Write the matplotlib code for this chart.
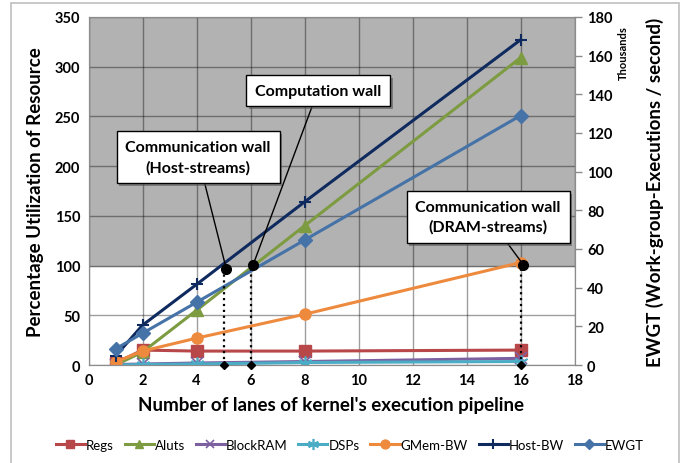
import matplotlib.pyplot as plt
import matplotlib.patheffects as pe
from matplotlib.patches import Rectangle

plt.rcParams['font.family'] = ['Lato', 'DejaVu Sans']

# Lanes in the kernel pipeline
lanes = [1, 2, 4, 8, 16]

# Resource utilization (%), left axis
regs = [2, 15, 14, 14, 15]
aluts = [0, 13, 55, 140, 309]
blockram = [0.5, 1, 2, 3.5, 6.7]
dsps = [0, 0.5, 1, 2.5, 3.5]
gmem_bw = [3, 14, 27, 51, 103]
host_bw = [9, 40, 81, 164, 327]

# Throughput (thousands of work-group executions / s), right axis
ewgt = [8.3, 16.4, 32.4, 64.6, 129]

# Wall points: (x of dotted drop line, y of dot, in % units)
walls_x = [5, 6, 16]
walls_y = [97, 101, 101]
wall_labels = ["Communication wall\n(Host-streams)", "Computation wall",
               "Communication wall\n(DRAM-streams)"]
# Callout box centres (data coords, % units)
box_x = [4.06, 8.5, 14.8]
box_y = [209, 276, 149]

fig = plt.figure(figsize=(6.92, 4.64), dpi=100)
fig.patches.append(Rectangle((11 / 692, -0.01), 668 / 692, 1 - 4 / 464 + 0.01,
                             transform=fig.transFigure, fill=False,
                             edgecolor='#bfbfbf', lw=1.2))
ax = fig.add_axes([88.5 / 692, 1 - 366 / 464, 486 / 692, 348 / 464])
ax2 = ax.twinx()

ax.set_xlim(0, 18)
ax.set_ylim(0, 350)
ax2.set_ylim(0, 180)
ax.axhspan(100, 350, color='#b2b2b2', zorder=0)
ax.set_xticks(range(0, 19, 2))
ax.set_yticks(range(0, 351, 50))
ax2.set_yticks(range(0, 181, 20))
ax.grid(True, color='black', alpha=0.38, lw=1.0, zorder=0.5)
ax.set_axisbelow(True)

for a in (ax, ax2):
    for s in a.spines.values():
        s.set_color('#8c8c8c')
    a.tick_params(labelsize=10.5, width=1, color='#8c8c8c')
    for lab in a.get_xticklabels() + a.get_yticklabels():
        lab.set_fontweight('bold')
ax.tick_params(axis='both', length=0, pad=6)
ax2.tick_params(axis='y', length=5, pad=4)

series = [
    ("Regs", regs, '#b8474a', 's', 8, {}),
    ("Aluts", aluts, '#7d9b40', '^', 8, {}),
    ("BlockRAM", blockram, '#7d60a0', 'x', 8, {'markeredgewidth': 1.2}),
    ("DSPs", dsps, '#4bacc6', (6, 2, 0), 10, {'markeredgewidth': 1.2}),
    ("GMem-BW", gmem_bw, '#ee8a3e', 'o', 8, {}),
    ("Host-BW", host_bw, '#0f2a5e', '+', 9, {'markeredgewidth': 1.5}),
]
handles = []
for name, vals, col, mk, ms, kw in series:
    h, = ax.plot(lanes, vals, color=col, lw=2.2, marker=mk, ms=ms,
                 markeredgecolor=col, markerfacecolor=col, label=name,
                 zorder=3, **kw)
    handles.append(h)
h, = ax2.plot(lanes, ewgt, color='#4572a7', lw=2.2, marker='D', ms=7,
              markeredgecolor='#4572a7', label="EWGT", zorder=3)
handles.append(h)

# Wall markers, drop lines and callouts
k = 180 / 350
for wx, wy, lab, bx, by in zip(walls_x, walls_y, wall_labels, box_x, box_y):
    ax2.plot([wx, wx], [0, wy * k], ls=':', color='black', lw=1.6, zorder=4)
    ax2.plot(wx, 0, marker='D', ms=4, color='black', zorder=5, clip_on=False)
    ax2.plot(wx + 0.1, wy * k, marker='o', ms=7, color='black', zorder=6)
    t = ax2.annotate(lab, xy=(wx + 0.1, wy * k), xytext=(bx, by * k),
                     ha='center', va='center', fontsize=11.5,
                     fontweight='bold', zorder=7, linespacing=1.5,
                     bbox=dict(boxstyle='square,pad=0.55', facecolor='white',
                               edgecolor='black', lw=1.0),
                     arrowprops=dict(arrowstyle='-', color='black', lw=1.0,
                                     shrinkA=0, shrinkB=0))
    t.get_bbox_patch().set_path_effects([
        pe.withSimplePatchShadow(offset=(2, -2), shadow_rgbFace='#555555',
                                 alpha=0.6)])

ax.set_xlabel("Number of lanes of kernel's execution pipeline",
              fontsize=13.5, fontweight='bold', labelpad=6)
ax.set_ylabel("Percentage Utilization of Resource", fontsize=13.5,
              fontweight='bold', labelpad=8)
ax2.set_ylabel("EWGT (Work-group-Executions / second)", fontsize=13.5,
               fontweight='bold', labelpad=24)
fig.text(623 / 692, 1 - 53 / 464, "Thousands", rotation=90, ha='center',
         va='center', fontsize=8, fontweight='bold')

fig.legend(handles=handles, loc='center', bbox_to_anchor=(350 / 692, 1 - 446 / 464),
           ncol=7, frameon=False, fontsize=9.5, handlelength=2.2,
           columnspacing=0.8, handletextpad=0.1, markerscale=0.8)

fig.savefig("out.png", dpi=100)
